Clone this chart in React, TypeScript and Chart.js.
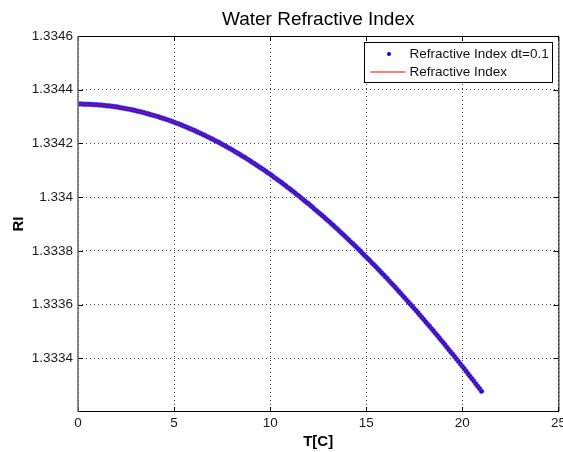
import React, { useEffect, useRef } from "react";
import { Chart, registerables } from "chart.js";

Chart.register(...registerables);

const FONT = '"Liberation Sans", Arial, Helvetica, sans-serif';

const chartTitle = "Water Refractive Index";
const xAxisTitle = "T[C]";
const yAxisTitle = "RI";
const seriesLabels = ["Refractive Index dt=0.1", "Refractive Index"];

const tStart = 0;
const tStep = 0.1;

// Refractive index, one value per 0.1 degC from 0 to 21
const riValues = [
  1.334347, 1.334347, 1.334347, 1.334346, 1.334346, 1.334346, 1.334346, 1.334345, 1.334345, 1.334344,
  1.334344, 1.334343, 1.334343, 1.334342, 1.334341, 1.33434, 1.33434, 1.334339, 1.334338, 1.334337,
  1.334336, 1.334335, 1.334333, 1.334332, 1.334331, 1.334329, 1.334328, 1.334327, 1.334325, 1.334324,
  1.334322, 1.33432, 1.334319, 1.334317, 1.334315, 1.334313, 1.334311, 1.334309, 1.334307, 1.334305,
  1.334303, 1.334301, 1.334299, 1.334296, 1.334294, 1.334292, 1.334289, 1.334287, 1.334284, 1.334282,
  1.334279, 1.334276, 1.334274, 1.334271, 1.334268, 1.334265, 1.334262, 1.334259, 1.334256, 1.334253,
  1.33425, 1.334247, 1.334243, 1.33424, 1.334237, 1.334233, 1.33423, 1.334226, 1.334223, 1.334219,
  1.334216, 1.334212, 1.334208, 1.334205, 1.334201, 1.334197, 1.334193, 1.334189, 1.334185, 1.334181,
  1.334177, 1.334173, 1.334168, 1.334164, 1.33416, 1.334155, 1.334151, 1.334147, 1.334142, 1.334138,
  1.334133, 1.334128, 1.334124, 1.334119, 1.334114, 1.334109, 1.334105, 1.3341, 1.334095, 1.33409,
  1.334085, 1.33408, 1.334074, 1.334069, 1.334064, 1.334059, 1.334054, 1.334048, 1.334043, 1.334037,
  1.334032, 1.334026, 1.334021, 1.334015, 1.334009, 1.334004, 1.333998, 1.333992, 1.333986, 1.33398,
  1.333975, 1.333969, 1.333963, 1.333956, 1.33395, 1.333944, 1.333938, 1.333932, 1.333926, 1.333919,
  1.333913, 1.333907, 1.3339, 1.333894, 1.333887, 1.333881, 1.333874, 1.333867, 1.333861, 1.333854,
  1.333847, 1.33384, 1.333833, 1.333827, 1.33382, 1.333813, 1.333806, 1.333799, 1.333791, 1.333784,
  1.333777, 1.33377, 1.333763, 1.333755, 1.333748, 1.333741, 1.333733, 1.333726, 1.333718, 1.333711,
  1.333703, 1.333696, 1.333688, 1.33368, 1.333673, 1.333665, 1.333657, 1.333649, 1.333641, 1.333633,
  1.333625, 1.333617, 1.333609, 1.333601, 1.333593, 1.333585, 1.333577, 1.333569, 1.33356, 1.333552,
  1.333544, 1.333535, 1.333527, 1.333519, 1.33351, 1.333502, 1.333493, 1.333485, 1.333476, 1.333467,
  1.333459, 1.33345, 1.333441, 1.333432, 1.333423, 1.333415, 1.333406, 1.333397, 1.333388, 1.333379,
  1.33337, 1.333361, 1.333352, 1.333342, 1.333333, 1.333324, 1.333315, 1.333305, 1.333296, 1.333287,
  1.333277,
];

const xTickValues = [0, 5, 10, 15, 20, 25];
const xTickLabels = ["0", "5", "10", "15", "20", "25"];
const yTickValues = [1.3334, 1.3336, 1.3338, 1.334, 1.3342, 1.3344, 1.3346];
const yTickLabels = ["1.3334", "1.3336", "1.3338", "1.334", "1.3342", "1.3344", "1.3346"];
const xRange = [0, 25];
const yRange = [1.3332, 1.3346];

const tValues = riValues.map((_, i) => Number((tStart + i * tStep).toFixed(1)));

const matlabDecor = {
  id: "matlabDecor",
  afterDatasetsDraw(chart: any) {
    const { ctx, chartArea: a, scales } = chart;
    ctx.save();
    const tl = 5;
    ctx.strokeStyle = "#000";
    ctx.lineWidth = 1;
    ctx.setLineDash([]);
    ctx.beginPath();
    xTickValues.forEach((v) => {
      const x = Math.round(scales.x.getPixelForValue(v)) + 0.5;
      ctx.moveTo(x, a.bottom);
      ctx.lineTo(x, a.bottom - tl);
      ctx.moveTo(x, a.top);
      ctx.lineTo(x, a.top + tl);
    });
    yTickValues.forEach((v) => {
      const y = Math.round(scales.y.getPixelForValue(v)) + 0.5;
      ctx.moveTo(a.left, y);
      ctx.lineTo(a.left + tl, y);
      ctx.moveTo(a.right, y);
      ctx.lineTo(a.right - tl, y);
    });
    ctx.stroke();
    ctx.beginPath();
    ctx.moveTo(a.left, a.top + 0.5);
    ctx.lineTo(a.right + 0.5, a.top + 0.5);
    ctx.lineTo(a.right + 0.5, a.bottom - 0.5);
    ctx.lineTo(a.left, a.bottom - 0.5);
    ctx.stroke();
    ctx.strokeStyle = "#6e6e6e";
    ctx.lineWidth = 1.6;
    ctx.beginPath();
    ctx.moveTo(a.left, a.top);
    ctx.lineTo(a.left, a.bottom);
    ctx.stroke();
    ctx.restore();
  },
  afterDraw(chart: any) {
    const { ctx, chartArea: a } = chart;
    ctx.save();
    ctx.setLineDash([]);
    const cx = (a.left + a.right) / 2;
    ctx.fillStyle = "#000";
    ctx.font = `19px ${FONT}`;
    ctx.textAlign = "center";
    ctx.textBaseline = "alphabetic";
    ctx.fillText(chartTitle, cx, 25);
    ctx.font = `bold 15px ${FONT}`;
    ctx.fillText(xAxisTitle, cx, a.bottom + 34);
    ctx.save();
    ctx.translate(22.5, (a.top + a.bottom) / 2);
    ctx.rotate(-Math.PI / 2);
    ctx.fillText(yAxisTitle, 0, 0);
    ctx.restore();

    const bw = 188;
    const bh = 40;
    const bx = Math.round(a.right - 6 - bw) + 0.5;
    const by = Math.round(a.top + 6) + 0.5;
    ctx.fillStyle = "#fff";
    ctx.fillRect(bx, by, bw, bh);
    ctx.strokeStyle = "#000";
    ctx.lineWidth = 1;
    ctx.strokeRect(bx, by, bw, bh);
    const r1 = by + 11.5;
    const r2 = by + 29.5;
    ctx.fillStyle = "#0000ff";
    ctx.beginPath();
    ctx.arc(bx + 24.5, r1, 2, 0, Math.PI * 2);
    ctx.fill();
    ctx.strokeStyle = "rgb(255,0,0)";
    ctx.lineWidth = 1.2;
    ctx.beginPath();
    ctx.moveTo(bx + 6, r2);
    ctx.lineTo(bx + 41, r2);
    ctx.stroke();
    ctx.fillStyle = "#111";
    ctx.font = `13.5px ${FONT}`;
    ctx.textAlign = "left";
    ctx.textBaseline = "middle";
    ctx.fillText(seriesLabels[0], bx + 45, r1);
    ctx.fillText(seriesLabels[1], bx + 45, r2);
    ctx.restore();
  },
};

export default function App() {
  const ref = useRef<HTMLCanvasElement | null>(null);
  useEffect(() => {
    if (!ref.current) return;
    const pts = riValues.map((v, i) => ({ x: tValues[i], y: v }));
    const tickFont = { family: FONT, size: 13.5 };
    const chart = new Chart(ref.current, {
      type: "line",
      data: {
        datasets: [
          {
            label: seriesLabels[0],
            data: pts,
            showLine: false,
            pointRadius: 2.3,
            pointBorderWidth: 0.6,
            pointBackgroundColor: "#0000ff",
            pointBorderColor: "#4a4aff",
            order: 2,
          },
          {
            label: seriesLabels[1],
            data: pts,
            borderColor: "#ff0000",
            borderWidth: 1,
            pointRadius: 0,
            tension: 0,
            fill: false,
            order: 1,
          },
        ],
      },
      plugins: [matlabDecor],
      options: {
        animation: false,
        responsive: false,
        events: [],
        layout: { padding: { left: 0, right: 4, top: 36, bottom: 0 } },
        plugins: { legend: { display: false }, title: { display: false }, tooltip: { enabled: false } },
        scales: {
          x: {
            type: "linear",
            min: xRange[0],
            max: xRange[1],
            afterBuildTicks: (s: any) => {
              s.ticks = xTickValues.map((v) => ({ value: v }));
            },
            afterFit: (s: any) => {
              s.height = 40;
              s.paddingLeft = 0;
              s.paddingRight = 0;
            },
            ticks: {
              autoSkip: false,
              maxRotation: 0,
              padding: 3,
              color: "#1a1a1a",
              font: tickFont,
              callback: (v: any) => {
                const i = xTickValues.indexOf(Number(v));
                return i >= 0 ? xTickLabels[i] : "";
              },
            },
            grid: { color: "rgba(0,0,0,0.75)", lineWidth: 1, drawTicks: false },
            border: { display: false, dash: [1, 3] },
          },
          y: {
            type: "linear",
            min: yRange[0],
            max: yRange[1],
            afterBuildTicks: (s: any) => {
              s.ticks = yTickValues.map((v) => ({ value: v }));
            },
            afterFit: (s: any) => {
              s.width = 78;
              s.paddingTop = 0;
              s.paddingBottom = 0;
            },
            ticks: {
              autoSkip: false,
              padding: 5,
              color: "#1a1a1a",
              font: tickFont,
              callback: (v: any) => {
                const i = yTickValues.indexOf(Number(v));
                return i >= 0 ? yTickLabels[i] : "";
              },
            },
            grid: { color: "rgba(0,0,0,0.75)", lineWidth: 1, drawTicks: false },
            border: { display: false, dash: [1, 3] },
          },
        },
      },
    } as any);
    return () => chart.destroy();
  }, []);
  return (
    <div style={{ position: "fixed", left: 0, top: 0, width: 563, height: 452, background: "#fff" }}>
      <canvas ref={ref} width={563} height={452} style={{ display: "block" }} />
    </div>
  );
}
